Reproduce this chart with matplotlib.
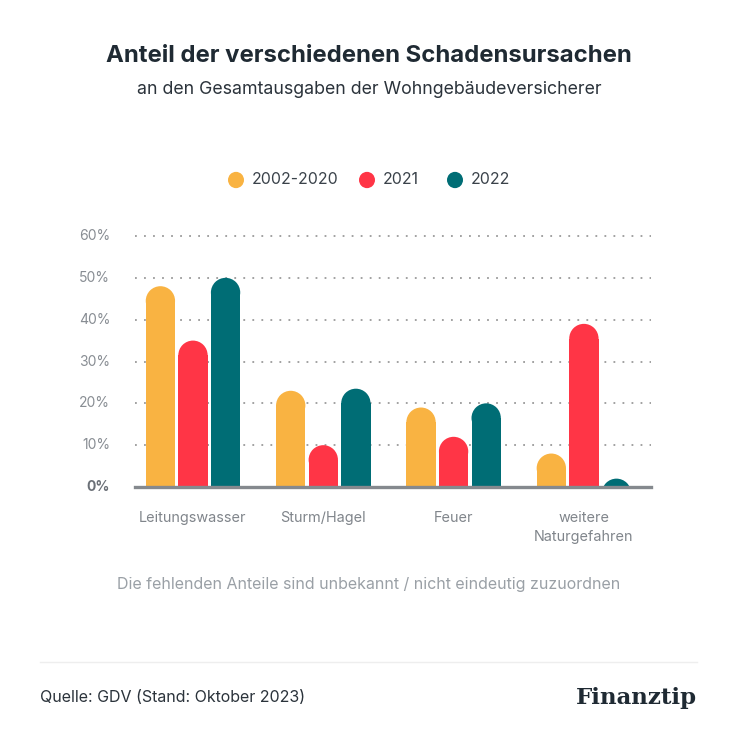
import numpy as np
import matplotlib
matplotlib.use("Agg")
import matplotlib.pyplot as plt
from matplotlib.patches import Ellipse, Circle

plt.rcParams['font.family'] = ['Inter', 'DejaVu Sans']

# Daten
kategorien = ['Leitungswasser', 'Sturm/Hagel', 'Feuer', 'weitere\nNaturgefahren']
serien = ['2002-2020', '2021', '2022']
werte_2002_2020 = [48, 23, 19, 8]
werte_2021 = [35, 10, 12, 39]
werte_2022 = [50, 23.5, 20, 2]
farben = ['#F9B342', '#FF3546', '#006D75']
ytick_werte = [0, 10, 20, 30, 40, 50, 60]

W, H = 738, 752
fig = plt.figure(figsize=(W / 100, H / 100), dpi=100)
fig.patch.set_facecolor('white')

# Achse in Pixelkoordinaten platzieren
ax_l, ax_r, ax_t, ax_b = 135, 651, 236, 487
ax = fig.add_axes([ax_l / W, 1 - ax_b / H, (ax_r - ax_l) / W, (ax_b - ax_t) / H])
ax.set_xlim(-0.445, 3.515)
ax.set_ylim(0, 60)
for s in ax.spines.values():
    s.set_visible(False)
ax.set_xticks([])
ax.set_yticks([])

# gepunktete Gitterlinien
for v in ytick_werte[1:]:
    ax.axhline(v, color='#9a9a9a', linestyle=(0, (1, 4)), linewidth=1.3, zorder=1, clip_on=False)

breite = 0.225
abstand = 0.25
px_pro_einheit = (ax_b - ax_t) / 60.0
ry = (breite * (ax_r - ax_l) / (3.515 + 0.445)) / 2 / px_pro_einheit

x = np.arange(len(kategorien))
alle = [werte_2002_2020, werte_2021, werte_2022]
for i, (werte, farbe) in enumerate(zip(alle, farben)):
    pos = x + (i - 1) * abstand
    koerper = [max(v - ry, 0) for v in werte]
    ax.bar(pos, koerper, width=breite, color=farbe, zorder=2, linewidth=0)
    for p, v in zip(pos, werte):
        cap = Ellipse((p, v - ry), breite, 2 * ry, facecolor=farbe, edgecolor='none', zorder=2)
        ax.add_patch(cap)

# Grundlinie
ax.axhline(0, color='#85898e', linewidth=2.4, zorder=3, clip_on=False)

# y-Beschriftung
for v in ytick_werte:
    ax.text(-0.445 - 0.19, v, f'{v}%', ha='right', va='center', fontsize=10,
            color='#888d93' if v else '#6b7077', fontweight='bold' if v == 0 else 'normal')

# Kategorien
for xi, k in zip(x, kategorien):
    ax.text(xi, -5.8, k, ha='center', va='top', fontsize=10.4, color='#80858b', linespacing=1.4)

def ftext(px, py, s, **kw):
    fig.text(px / W, 1 - py / H, s, **kw)

ftext(369, 56, 'Anteil der verschiedenen Schadensursachen', ha='center', va='center',
      fontsize=17.2, fontweight='bold', color='#1f2a33')
ftext(369, 90, 'an den Gesamtausgaben der Wohngebäudeversicherer', ha='center', va='center',
      fontsize=12.8, color='#2b333b')

# Legende
leg_x = [236, 367, 455]
for lx, name, farbe in zip(leg_x, serien, farben):
    fig.patches.append(Circle((lx / W, 1 - 180 / H), 8 / W, transform=fig.transFigure,
                              facecolor=farbe, edgecolor='none'))
    ftext(lx + 16, 180, name, ha='left', va='center', fontsize=11.4, color='#3a424a')

ftext(369, 585, 'Die fehlenden Anteile sind unbekannt / nicht eindeutig zuzuordnen', ha='center',
      va='center', fontsize=11.5, color='#9aa0a6')

fig.add_artist(plt.Line2D([40 / W, 697 / W], [1 - 662 / H, 1 - 662 / H], color='#eeeeee',
                          linewidth=1, transform=fig.transFigure))
ftext(40, 698, 'Quelle: GDV (Stand: Oktober 2023)', ha='left', va='center', fontsize=11.5,
      color='#2b333b')
ftext(697, 698, 'Finanztip', ha='right', va='center', fontsize=16.5, fontweight='bold',
      color='#1f2a33', family=['DejaVu Serif'])

fig.savefig('out.png', dpi=100, facecolor='white')
